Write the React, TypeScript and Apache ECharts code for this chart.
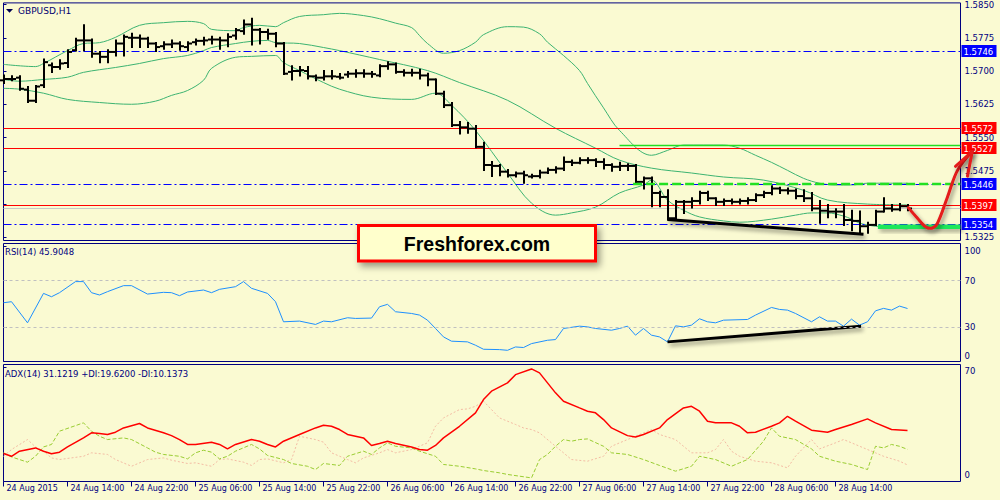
import React, { useEffect, useRef } from 'react';
import * as echarts from 'echarts';

const TIME_LABELS = ['24 Aug 2015', '24 Aug 14:00', '24 Aug 22:00', '25 Aug 06:00', '25 Aug 14:00', '25 Aug 22:00', '26 Aug 06:00', '26 Aug 14:00', '26 Aug 22:00', '27 Aug 06:00', '27 Aug 14:00', '27 Aug 22:00', '28 Aug 06:00', '28 Aug 14:00', '28 Aug 22:00'];
const LABEL_STEP = 8;

// open, high, low, close per hourly bar
const BARS_OHLC: [number, number, number, number][] = [
  [1.5679, 1.5690, 1.5673, 1.5682], [1.5682, 1.5688, 1.5679, 1.5682], [1.5685, 1.5688, 1.5658, 1.5660], [1.5658, 1.5664, 1.5630, 1.5633],
  [1.5633, 1.5666, 1.5630, 1.5665], [1.5668, 1.5726, 1.5664, 1.5720], [1.5713, 1.5717, 1.5698, 1.5709], [1.5709, 1.5724, 1.5705, 1.5717],
  [1.5718, 1.5747, 1.5709, 1.5743], [1.5747, 1.5773, 1.5746, 1.5769], [1.5769, 1.5803, 1.5747, 1.5769], [1.5769, 1.5771, 1.5732, 1.5739],
  [1.5739, 1.5743, 1.5720, 1.5732], [1.5732, 1.5747, 1.5720, 1.5743], [1.5743, 1.5769, 1.5735, 1.5762], [1.5762, 1.5780, 1.5735, 1.5777],
  [1.5775, 1.5784, 1.5754, 1.5775], [1.5775, 1.5780, 1.5754, 1.5773], [1.5773, 1.5775, 1.5754, 1.5762], [1.5762, 1.5763, 1.5745, 1.5754],
  [1.5756, 1.5765, 1.5750, 1.5760], [1.5760, 1.5769, 1.5754, 1.5762], [1.5762, 1.5765, 1.5748, 1.5756], [1.5754, 1.5765, 1.5747, 1.5762],
  [1.5765, 1.5771, 1.5760, 1.5768], [1.5768, 1.5775, 1.5760, 1.5769], [1.5771, 1.5777, 1.5762, 1.5771], [1.5771, 1.5775, 1.5750, 1.5769],
  [1.5769, 1.5783, 1.5756, 1.5777], [1.5780, 1.5795, 1.5773, 1.5792], [1.5790, 1.5814, 1.5784, 1.5805], [1.5805, 1.5818, 1.5760, 1.5793],
  [1.5793, 1.5795, 1.5762, 1.5788], [1.5788, 1.5793, 1.5773, 1.5784], [1.5784, 1.5786, 1.5756, 1.5762], [1.5762, 1.5763, 1.5693, 1.5694],
  [1.5698, 1.5711, 1.5681, 1.5700], [1.5700, 1.5709, 1.5690, 1.5702], [1.5700, 1.5709, 1.5683, 1.5688], [1.5688, 1.5690, 1.5679, 1.5685],
  [1.5685, 1.5700, 1.5681, 1.5688], [1.5688, 1.5700, 1.5683, 1.5688], [1.5687, 1.5693, 1.5683, 1.5685], [1.5692, 1.5698, 1.5687, 1.5694],
  [1.5694, 1.5702, 1.5687, 1.5695], [1.5695, 1.5702, 1.5687, 1.5694], [1.5694, 1.5698, 1.5687, 1.5693], [1.5690, 1.5713, 1.5688, 1.5711],
  [1.5711, 1.5720, 1.5705, 1.5715], [1.5715, 1.5717, 1.5696, 1.5698], [1.5698, 1.5702, 1.5690, 1.5696], [1.5696, 1.5703, 1.5690, 1.5696],
  [1.5696, 1.5703, 1.5683, 1.5690], [1.5690, 1.5694, 1.5668, 1.5681], [1.5681, 1.5681, 1.5648, 1.5649], [1.5649, 1.5653, 1.5619, 1.5623],
  [1.5623, 1.5628, 1.5576, 1.5578], [1.5578, 1.5585, 1.5559, 1.5573], [1.5573, 1.5583, 1.5561, 1.5570], [1.5570, 1.5576, 1.5528, 1.5529],
  [1.5529, 1.5538, 1.5477, 1.5488], [1.5488, 1.5495, 1.5463, 1.5486], [1.5486, 1.5488, 1.5465, 1.5473], [1.5473, 1.5477, 1.5462, 1.5465],
  [1.5465, 1.5471, 1.5462, 1.5469], [1.5469, 1.5473, 1.5448, 1.5465], [1.5462, 1.5466, 1.5460, 1.5463], [1.5463, 1.5475, 1.5460, 1.5471],
  [1.5471, 1.5480, 1.5470, 1.5477], [1.5477, 1.5483, 1.5471, 1.5480], [1.5480, 1.5505, 1.5477, 1.5495], [1.5495, 1.5498, 1.5488, 1.5493],
  [1.5493, 1.5503, 1.5492, 1.5499], [1.5499, 1.5503, 1.5493, 1.5499], [1.5499, 1.5501, 1.5486, 1.5495], [1.5495, 1.5501, 1.5480, 1.5488],
  [1.5488, 1.5490, 1.5475, 1.5484], [1.5484, 1.5493, 1.5477, 1.5486], [1.5486, 1.5490, 1.5477, 1.5486], [1.5486, 1.5488, 1.5448, 1.5450],
  [1.5450, 1.5460, 1.5435, 1.5458], [1.5458, 1.5460, 1.5395, 1.5425], [1.5425, 1.5428, 1.5395, 1.5416], [1.5416, 1.5431, 1.5365, 1.5368],
  [1.5368, 1.5407, 1.5365, 1.5405], [1.5405, 1.5407, 1.5380, 1.5405], [1.5405, 1.5413, 1.5392, 1.5407], [1.5407, 1.5428, 1.5401, 1.5425],
  [1.5425, 1.5428, 1.5409, 1.5413], [1.5413, 1.5413, 1.5398, 1.5405], [1.5405, 1.5410, 1.5398, 1.5407], [1.5407, 1.5410, 1.5401, 1.5405],
  [1.5405, 1.5410, 1.5401, 1.5407], [1.5407, 1.5413, 1.5401, 1.5409], [1.5409, 1.5422, 1.5407, 1.5420], [1.5420, 1.5428, 1.5416, 1.5425],
  [1.5425, 1.5440, 1.5422, 1.5435], [1.5435, 1.5437, 1.5425, 1.5431], [1.5431, 1.5435, 1.5424, 1.5430], [1.5430, 1.5433, 1.5413, 1.5418],
  [1.5418, 1.5431, 1.5407, 1.5413], [1.5413, 1.5425, 1.5386, 1.5390], [1.5390, 1.5407, 1.5358, 1.5385], [1.5385, 1.5398, 1.5370, 1.5383],
  [1.5383, 1.5388, 1.5370, 1.5383], [1.5383, 1.5398, 1.5353, 1.5364], [1.5364, 1.5385, 1.5341, 1.5362], [1.5362, 1.5383, 1.5334, 1.5350],
  [1.5350, 1.5358, 1.5335, 1.5353], [1.5353, 1.5385, 1.5353, 1.5383], [1.5383, 1.5413, 1.5383, 1.5390], [1.5390, 1.5398, 1.5385, 1.5388],
  [1.5388, 1.5400, 1.5386, 1.5395], [1.5395, 1.5398, 1.5386, 1.5390],
];

// Bollinger bands [bar, price]
const BB_UPPER: [number, number][] = [
  [0, 1.5715], [4, 1.5710], [5, 1.5717], [8, 1.5746], [10, 1.5762], [12, 1.5764], [14, 1.5776], [17, 1.5803], [20, 1.5809], [23, 1.5812],
  [25, 1.5807], [26, 1.5794], [29, 1.5791], [30, 1.5798], [32, 1.5803], [34, 1.5800], [35, 1.5809], [37, 1.5823], [40, 1.5827], [42, 1.5830],
  [45, 1.5825], [47, 1.5818], [49, 1.5808], [51, 1.5798], [52, 1.5780], [53, 1.5762], [55, 1.5740], [57, 1.5746], [59, 1.5765], [60, 1.5782],
  [63, 1.5800], [65, 1.5799], [67, 1.5784], [68, 1.5765], [70, 1.5735], [72, 1.5701], [73, 1.5672], [75, 1.5617], [77, 1.5566], [81, 1.5510],
  [83, 1.5521], [85, 1.5533], [90, 1.5533], [92, 1.5526], [94, 1.5510], [96, 1.5494], [98, 1.5476], [100, 1.5458], [102, 1.5447], [104, 1.5443],
  [106, 1.5443], [108, 1.5447], [110, 1.5447], [113, 1.5447],
];
const BB_MIDDLE: [number, number][] = [
  [0, 1.5681], [2, 1.5677], [5, 1.5681], [8, 1.5686], [10, 1.5697], [14, 1.5708], [17, 1.5717], [20, 1.5728], [23, 1.5735], [25, 1.5746],
  [26, 1.5753], [29, 1.5762], [31, 1.5767], [33, 1.5769], [34, 1.5764], [37, 1.5762], [40, 1.5753], [42, 1.5746], [47, 1.5726], [53, 1.5701],
  [57, 1.5674], [63, 1.5634], [69, 1.5571], [74, 1.5526], [77, 1.5499], [81, 1.5481], [86, 1.5470], [90, 1.5461], [95, 1.5454], [100, 1.5431],
  [103, 1.5409], [108, 1.5400], [113, 1.5398],
];
const BB_LOWER: [number, number][] = [
  [0, 1.5661], [2, 1.5659], [5, 1.5650], [8, 1.5636], [12, 1.5629], [16, 1.5625], [19, 1.5632], [21, 1.5645], [23, 1.5656], [25, 1.5679],
  [26, 1.5706], [29, 1.5731], [31, 1.5733], [34, 1.5735], [35, 1.5719], [37, 1.5701], [40, 1.5674], [42, 1.5659], [46, 1.5641], [51, 1.5636],
  [54, 1.5650], [56, 1.5623], [59, 1.5566], [63, 1.5470], [66, 1.5402], [69, 1.5375], [71, 1.5380], [74, 1.5393], [77, 1.5425], [80, 1.5443],
  [81, 1.5454], [83, 1.5409], [85, 1.5386], [87, 1.5371], [90, 1.5362], [92, 1.5359], [96, 1.5366], [99, 1.5375], [101, 1.5380], [103, 1.5380],
  [105, 1.5373], [106, 1.5366], [107, 1.5357], [109, 1.5350], [113, 1.5344],
];

const PRICE_TICKS = [1.5325, 1.5400, 1.5475, 1.5550, 1.5625, 1.5700, 1.5775, 1.5850];
const LEVEL_PRICES = [1.5746, 1.5572, 1.5527, 1.5446, 1.5397, 1.5354];
const LEVEL_COLORS = ['#0000ff', '#ff0000', '#ff0000', '#0000ff', '#ff0000', '#0000ff'];
const LEVEL_DASHDOT = [true, false, false, true, false, true];

const RESIST_LINE: [number, number][] = [[77, 1.5532], [119.6, 1.5532]];
const ZONE_LINE: [number, number][] = [[78.7, 1.5445], [119.6, 1.5445]];
const SUPPORT_LINE: [number, number][] = [[109.3, 1.5349], [119.6, 1.5349]];
const PRICE_TREND: [number, number][] = [[83, 1.5365], [107.5, 1.5332]];
const ARROW_PATH: [number, number][] = [[113.1, 1.5392], [114.25, 1.5368], [115.25, 1.5349], [116.1, 1.5346], [116.75, 1.5357], [118.0, 1.5416], [119.25, 1.5476], [121.1, 1.5519]];
const ARROW_HEAD: [number, number][] = [[119.0, 1.5485], [121.1, 1.5519], [120.5, 1.5463]];

const RSI_POINTS: [number, number][] = [
  [0, 50.9], [1, 51.8], [3, 33.5], [5, 59.0], [6, 56.1], [7, 59.6], [9, 69.2], [10, 69.2], [11, 59.6], [12, 57.6], [13, 60.5], [15, 65.7],
  [16, 65.7], [18, 58.4], [20, 59.9], [21, 59.6], [22, 57.0], [23, 60.2], [25, 61.9], [26, 59.6], [27, 62.5], [29, 64.8], [30, 69.2], [31, 63.4],
  [33, 59.0], [34, 51.8], [35, 34.4], [37, 35.0], [39, 32.1], [40, 35.0], [41, 34.4], [43, 37.9], [44, 37.3], [46, 37.6], [47, 47.4], [48, 49.5],
  [49, 43.1], [51, 41.6], [52, 40.2], [53, 35.8], [54, 28.6], [55, 21.3], [56, 17.6], [58, 17.0], [59, 14.1], [60, 10.6], [62, 10.3], [63, 9.7],
  [64, 12.6], [65, 12.1], [66, 15.5], [68, 18.4], [69, 19.0], [70, 28.6], [72, 30.6], [73, 30.0], [74, 28.6], [76, 27.1], [77, 28.6], [78, 30.6],
  [79, 22.8], [80, 28.6], [81, 22.8], [82, 21.3], [83, 17.0], [84, 30.9], [85, 30.0], [86, 31.5], [87, 37.0], [88, 34.4], [89, 33.5], [90, 35.8],
  [93, 36.4], [94, 40.2], [96, 46.8], [97, 45.1], [98, 44.5], [99, 41.6], [101, 34.4], [102, 38.7], [103, 35.0], [104, 35.0], [105, 30.6], [106, 36.7],
  [107, 31.5], [108, 34.4], [109, 43.9], [110, 46.0], [111, 44.5], [112, 48.0], [113, 45.9],
];
const RSI_LEVELS = [70, 30];
const RSI_TICKS = [0, 30, 70, 100];
const RSI_TREND: [number, number][] = [[83, 17.0], [107.2, 30.6]];

const ADX_POINTS: [number, number][] = [
  [0, 17.1], [1, 15.4], [2, 18.5], [4, 20.5], [5, 18.5], [6, 16.9], [7, 17.9], [8, 21.1], [10, 26.6], [11, 29.7], [12, 29.3], [13, 28.7],
  [14, 30.1], [15, 32.7], [17, 35.4], [18, 32.7], [20, 29.7], [21, 28.0], [22, 25.6], [23, 22.6], [24, 22.6], [26, 24.0], [27, 22.6], [28, 19.9],
  [29, 22.6], [31, 25.6], [32, 24.6], [33, 22.6], [34, 21.1], [35, 24.6], [37, 28.7], [39, 32.7], [40, 34.3], [41, 33.7], [42, 31.7], [43, 28.7],
  [45, 26.6], [46, 22.0], [47, 23.2], [48, 24.6], [49, 23.2], [51, 21.1], [52, 19.5], [53, 19.1], [54, 22.0], [55, 26.6], [57, 33.7], [59, 41.9],
  [60, 50.0], [61, 55.1], [63, 60.2], [64, 65.2], [66, 68.7], [67, 66.3], [68, 60.2], [69, 54.1], [70, 49.0], [72, 44.9], [73, 42.9], [74, 41.9],
  [75, 37.8], [76, 32.7], [78, 28.0], [79, 27.2], [80, 28.7], [82, 32.7], [83, 37.8], [85, 44.9], [86, 45.9], [87, 42.9], [88, 36.8], [89, 35.8],
  [91, 35.8], [92, 33.7], [93, 29.7], [94, 30.1], [96, 33.7], [97, 35.8], [98, 39.8], [99, 36.8], [101, 31.3], [102, 30.7], [103, 30.1], [104, 31.7],
  [106, 34.8], [108, 38.2], [109, 35.8], [111, 31.7], [113, 31.1],
];
const PDI_POINTS: [number, number][] = [
  [0, 17.5], [1, 15.0], [3, 11.8], [4, 15.4], [5, 21.1], [6, 22.6], [7, 30.7], [10, 35.8], [11, 30.7], [12, 27.6], [13, 25.6], [15, 26.6],
  [16, 25.6], [18, 20.5], [19, 17.9], [20, 16.5], [22, 15.4], [23, 13.8], [24, 17.5], [25, 19.1], [26, 17.9], [27, 13.8], [28, 15.4], [29, 18.5],
  [31, 22.6], [32, 19.9], [33, 15.9], [35, 13.4], [36, 11.0], [38, 9.3], [39, 7.3], [40, 11.0], [41, 10.4], [42, 9.8], [43, 15.4], [45, 18.5],
  [46, 16.5], [47, 20.5], [48, 23.6], [49, 21.5], [51, 20.5], [52, 18.5], [54, 15.4], [55, 10.4], [57, 9.3], [59, 7.7], [60, 6.7], [62, 5.3],
  [63, 4.3], [66, 2.2], [67, 13.4], [68, 16.5], [69, 21.5], [70, 25.6], [71, 24.6], [72, 25.6], [73, 26.0], [75, 21.5], [76, 17.5], [78, 16.5],
  [80, 13.4], [82, 9.8], [84, 6.3], [86, 9.3], [87, 15.4], [88, 14.4], [89, 13.4], [91, 9.3], [92, 11.4], [93, 13.4], [95, 24.6], [96, 32.7],
  [97, 27.6], [99, 25.6], [101, 19.9], [102, 15.4], [104, 12.4], [106, 10.4], [108, 7.3], [109, 21.5], [110, 20.5], [111, 22.6], [112, 21.5], [113, 19.6],
];
const MDI_POINTS: [number, number][] = [
  [0, 15.4], [1, 19.5], [3, 25.6], [4, 21.1], [5, 18.5], [6, 14.4], [7, 13.4], [10, 15.4], [11, 17.5], [13, 16.5], [14, 13.4], [16, 9.3],
  [18, 13.4], [20, 14.4], [21, 13.0], [23, 11.0], [24, 11.4], [26, 9.3], [27, 13.4], [28, 13.8], [30, 11.8], [31, 9.8], [32, 13.4], [33, 13.8],
  [35, 11.4], [36, 13.4], [37, 27.6], [39, 25.6], [40, 24.0], [41, 17.5], [43, 13.4], [44, 11.4], [45, 14.4], [47, 17.5], [48, 19.5], [49, 17.5],
  [51, 19.5], [53, 23.6], [54, 33.7], [55, 38.8], [57, 43.9], [58, 44.3], [59, 45.9], [60, 49.0], [61, 43.9], [62, 38.8], [64, 34.8], [65, 32.7],
  [66, 31.7], [67, 29.7], [69, 21.5], [70, 17.5], [71, 13.4], [73, 12.4], [75, 15.4], [76, 21.5], [78, 25.6], [80, 29.7], [81, 31.7], [82, 28.7],
  [84, 25.6], [85, 21.5], [86, 17.5], [88, 17.5], [89, 19.5], [90, 25.6], [91, 18.5], [92, 15.4], [94, 12.4], [96, 11.4], [98, 8.3], [99, 15.4],
  [100, 20.5], [101, 25.6], [102, 19.9], [104, 23.6], [105, 25.6], [106, 23.6], [108, 19.5], [109, 17.5], [110, 15.4], [112, 12.4], [113, 10.1],
];
const ADX_TICKS = [0, 70];

const BG = '#FAFAD2';
const NAVY = '#000080';
const FONT = 'DejaVu Sans';
const X_MAX = 119.625;
const PRICE_MIN = 1.53178;
const PRICE_MAX = 1.58536;
const SHADOW = { shadowColor: 'rgba(0,0,0,0.45)', shadowBlur: 4, shadowOffsetX: 2, shadowOffsetY: 3 };

function lineSeries(name: string, data: [number, number][], idx: number, lineStyle: any, extra: any = {}) {
  return {
    name, type: 'line', xAxisIndex: idx, yAxisIndex: idx, data, symbol: 'none', showSymbol: false,
    lineStyle, silent: true, animation: false, ...extra,
  };
}

function buildOption() {
  const lastClose = BARS_OHLC[BARS_OHLC.length - 1][3];
  const xTickValues = TIME_LABELS.map((_, k) => k * LABEL_STEP);
  const baseX = (gridIndex: number, show: boolean) => ({
    type: 'value', gridIndex, min: 0, max: X_MAX, interval: LABEL_STEP, show,
    axisLine: { show: false }, splitLine: { show: false },
    axisTick: { show, length: 5, inside: false, lineStyle: { color: NAVY }, customValues: xTickValues },
    axisLabel: {
      show, customValues: xTickValues, showMaxLabel: false, align: 'left', margin: 3, padding: [0, 0, 0, 3],
      color: NAVY, fontSize: 8, fontFamily: FONT,
      formatter: (v: number) => (v % LABEL_STEP === 0 ? TIME_LABELS[v / LABEL_STEP] ?? '' : ''),
    },
  });
  const baseY = (gridIndex: number, min: number, max: number, ticks: number[], fmt: (v: number) => string, rich: any = {}) => ({
    type: 'value', gridIndex, min, max, position: 'right', splitLine: { show: false },
    axisLine: { show: false },
    axisTick: { show: true, length: 3, lineStyle: { color: NAVY }, customValues: ticks },
    axisLabel: { customValues: ticks, margin: 4, color: NAVY, fontSize: 8.5, fontFamily: FONT, formatter: fmt, rich, hideOverlap: false },
  });

  const richBase = { color: NAVY, fontSize: 8.5, fontFamily: FONT };
  const textStyle = (text: string, fill: string, font: string, align = 'left') => ({
    text, fill, font, align, verticalAlign: 'middle', textAlign: align, textVerticalAlign: 'middle',
  });

  // horizontal levels: crisp 1px line across the price pane + coloured price box on the axis
  const levelSeries = {
    name: 'levels', type: 'custom', xAxisIndex: 0, yAxisIndex: 0, silent: true, animation: false, clip: false, z: 4,
    data: [[0, lastClose, -1], ...LEVEL_PRICES.map((p, k) => [0, p, k])],
    encode: { x: 0, y: 1 },
    renderItem: (params: any, api: any) => {
      const p = api.value(1);
      const k = api.value(2);
      const cs = params.coordSys;
      const y = Math.round(api.coord([0, p])[1]) + 0.5;
      const right = cs.x + cs.width;
      if (k < 0) {
        return { type: 'line', shape: { x1: cs.x, y1: y, x2: right, y2: y }, style: { stroke: '#c8c8c8', lineWidth: 1 } };
      }
      const color = LEVEL_COLORS[k];
      return {
        type: 'group',
        children: [
          { type: 'line', shape: { x1: cs.x, y1: y, x2: right, y2: y }, style: { stroke: color, lineWidth: 1, lineDash: LEVEL_DASHDOT[k] ? [8, 3, 2, 3] : null } },
          { type: 'rect', shape: { x: right + 1, y: y - 6.5, width: 35, height: 12 }, style: { fill: color } },
          { type: 'text', x: right + 3, y: y + 0.5, style: textStyle(p.toFixed(4), '#ffffff', `8.5px "${FONT}"`) },
        ],
      };
    },
  };

  // thick support segment drawn as a filled band so that its drop shadow renders
  const supportSeries = {
    name: 'support', type: 'custom', xAxisIndex: 0, yAxisIndex: 0, silent: true, animation: false, z: 6,
    data: [SUPPORT_LINE[0]],
    encode: { x: 0, y: 1 },
    renderItem: (_params: any, api: any) => {
      const a = api.coord(SUPPORT_LINE[0]);
      const b = api.coord(SUPPORT_LINE[1]);
      return {
        type: 'rect', shape: { x: a[0], y: a[1] - 2.25, width: b[0] - a[0], height: 4.5 },
        style: { fill: '#1ee85a', shadowColor: 'rgba(0,0,0,0.35)', shadowBlur: 4, shadowOffsetX: 2, shadowOffsetY: 3 },
      };
    },
  };

  // hand-drawn forecast arrow (may run past the last bar into the axis area)
  const arrowSeries = {
    name: 'forecast', type: 'custom', xAxisIndex: 0, yAxisIndex: 0, silent: true, animation: false, clip: false, z: 10,
    data: [ARROW_PATH[0]],
    encode: { x: 0, y: 1 },
    renderItem: (_params: any, api: any) => {
      const style = { stroke: '#e41a1a', lineWidth: 3, fill: null, lineJoin: 'round', lineCap: 'round', ...SHADOW };
      return {
        type: 'group',
        children: [
          { type: 'polyline', shape: { points: ARROW_PATH.map((pt) => api.coord(pt)), smooth: 0.35 }, style },
          { type: 'polyline', shape: { points: ARROW_HEAD.map((pt) => api.coord(pt)) }, style },
        ],
      };
    },
  };

  return {
    animation: false,
    backgroundColor: BG,
    textStyle: { fontFamily: FONT },
    grid: [
      { left: 3.5, width: 957, top: 2.5, height: 238, show: true, borderColor: NAVY, borderWidth: 1, backgroundColor: BG },
      { left: 3.5, width: 957, top: 243.5, height: 118, show: true, borderColor: NAVY, borderWidth: 1, backgroundColor: BG },
      { left: 3.5, width: 957, top: 364.5, height: 117, show: true, borderColor: NAVY, borderWidth: 1, backgroundColor: BG },
    ],
    xAxis: [baseX(0, false), baseX(1, false), baseX(2, true)],
    yAxis: [
      baseY(0, PRICE_MIN, PRICE_MAX, PRICE_TICKS, (v: number) => v.toFixed(4)),
      baseY(1, 0, 102.2, RSI_TICKS, (v: number) => (v === 100 ? '{lo|100}' : v === 0 ? '{hi|0}' : String(v)), {
        lo: { ...richBase, padding: [9, 0, 0, 0] }, hi: { ...richBase, padding: [0, 0, 11, 0] },
      }),
      baseY(2, 0, 71.4, ADX_TICKS, (v: number) => (v === 70 ? '{lo|70}' : '{hi|0}'), {
        lo: { ...richBase, padding: [9, 0, 0, 0] }, hi: { ...richBase, padding: [0, 0, 13, 0] },
      }),
    ],
    series: [
      lineSeries('BB upper', BB_UPPER, 0, { color: '#3cb371', width: 1 }, { smooth: 0.35 }),
      lineSeries('BB lower', BB_LOWER, 0, { color: '#3cb371', width: 1 }, { smooth: 0.35 }),
      lineSeries('BB middle', BB_MIDDLE, 0, { color: '#3cb371', width: 1 }, { smooth: 0.35 }),
      levelSeries,
      {
        name: 'GBPUSD', type: 'custom', xAxisIndex: 0, yAxisIndex: 0, silent: true, animation: false, z: 5,
        data: BARS_OHLC.map((b, i) => [i, b[0], b[1], b[2], b[3]]),
        encode: { x: 0, y: [1, 2, 3, 4] },
        renderItem: (_p: any, api: any) => {
          const i = api.value(0);
          const o = api.coord([i, api.value(1)]);
          const h = api.coord([i, api.value(2)]);
          const l = api.coord([i, api.value(3)]);
          const c = api.coord([i, api.value(4)]);
          const x = Math.round(h[0]);
          const style = { stroke: '#000000', lineWidth: 2 };
          return {
            type: 'group',
            children: [
              { type: 'line', shape: { x1: x, y1: h[1] - 1, x2: x, y2: l[1] + 1 }, style },
              { type: 'line', shape: { x1: x - 4, y1: o[1], x2: x, y2: o[1] }, style },
              { type: 'line', shape: { x1: x, y1: c[1], x2: x + 4, y2: c[1] }, style },
            ],
          };
        },
      },
      lineSeries('resistance', RESIST_LINE, 0, { color: '#22dd22', width: 1.5 }, { z: 6 }),
      lineSeries('zone', ZONE_LINE, 0, { color: '#22e022', width: 2.5, type: [9, 4] }, { z: 6 }),
      supportSeries,
      lineSeries('price trend', PRICE_TREND, 0, { color: '#000000', width: 3, ...SHADOW }, { z: 6 }),
      arrowSeries,
      lineSeries('RSI(14)', RSI_POINTS, 1, { color: '#1e90ff', width: 1 }, {
        markLine: {
          silent: true, animation: false, symbol: ['none', 'none'], label: { show: false }, precision: 2,
          lineStyle: { color: '#c0c0c0', width: 1, type: [3, 3] },
          data: RSI_LEVELS.map((v) => ({ yAxis: v })),
        },
      }),
      lineSeries('RSI trend', RSI_TREND, 1, { color: '#000000', width: 3, ...SHADOW }),
      lineSeries('-DI', MDI_POINTS, 2, { color: '#f4bca4', width: 1, type: [2, 2] }),
      lineSeries('+DI', PDI_POINTS, 2, { color: '#9acd32', width: 1, type: [4, 2] }),
      lineSeries('ADX(14)', ADX_POINTS, 2, { color: '#ff0000', width: 1.5 }),
    ],
    graphic: [
      { type: 'polygon', shape: { points: [[6, 9], [13, 9], [9.5, 12.8]] }, style: { fill: '#000050' }, silent: true },
      { type: 'text', x: 18, y: 11, silent: true, style: textStyle('GBPUSD,H1', '#000070', `9px "${FONT}"`) },
      { type: 'text', x: 5, y: 252, silent: true, style: textStyle('RSI(14) 45.9048', NAVY, `8.5px "${FONT}"`) },
      { type: 'text', x: 5, y: 374, silent: true, style: textStyle('ADX(14) 31.1219 +DI:19.6200 -DI:10.1373', NAVY, `8.5px "${FONT}"`) },
      {
        type: 'rect', z: 100, silent: true, shape: { x: 358.5, y: 225.5, width: 237, height: 35.5 },
        style: { fill: '#ffffcc', stroke: '#ff0000', lineWidth: 3, shadowColor: 'rgba(0,0,0,0.4)', shadowBlur: 7, shadowOffsetX: 3, shadowOffsetY: 4 },
      },
      {
        type: 'text', z: 101, silent: true, x: 477, y: 243.5,
        style: textStyle('Freshforex.com', '#000000', 'bold 19.5px "Liberation Sans"', 'center'),
      },
    ],
  };
}

export default function App() {
  const ref = useRef<HTMLDivElement>(null);
  useEffect(() => {
    if (!ref.current) return;
    const chart = echarts.init(ref.current, null, { renderer: 'svg' });
    chart.setOption(buildOption() as any);
    return () => chart.dispose();
  }, []);
  return <div ref={ref} style={{ position: 'fixed', left: 0, top: 0, width: 1000, height: 500, background: BG }} />;
}
